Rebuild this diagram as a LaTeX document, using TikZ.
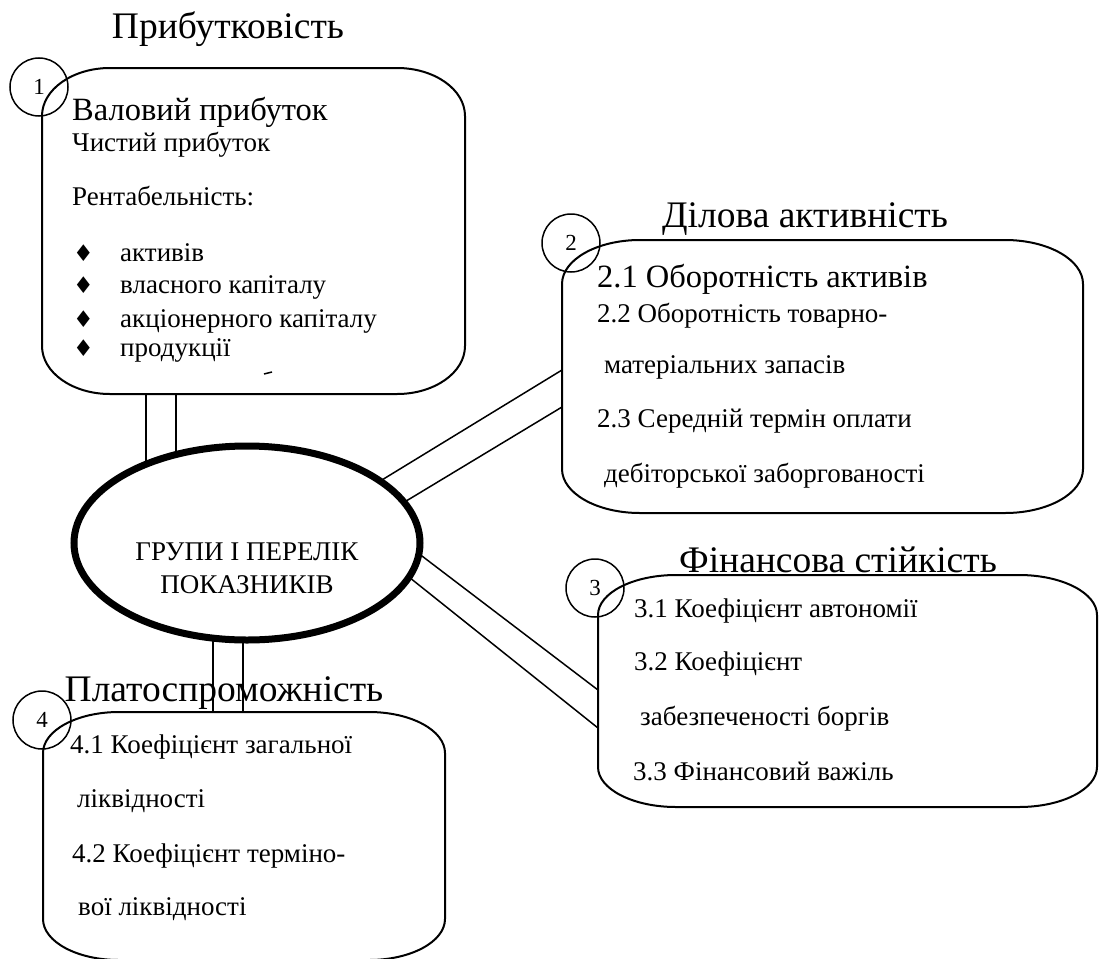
\documentclass[tikz,border=0pt]{standalone}
\usepackage{fontspec}
\setmainfont{Liberation Serif}
\newfontfamily\symfont{DejaVu Sans}
\usetikzlibrary{shapes.geometric,backgrounds}

\tikzset{
  ttl/.style={anchor=base,inner sep=0,font=\fontsize{37.5}{37.5}\selectfont},
  big/.style={anchor=base west,inner sep=0,font=\fontsize{32.5}{32.5}\selectfont},
  txt/.style={anchor=base west,inner sep=0,font=\fontsize{27}{27}\selectfont},
  dia/.style={anchor=base west,inner sep=0,font=\symfont\fontsize{23}{23}\selectfont},
  num/.style={draw,ellipse,line width=1.5,minimum width=58,minimum height=58,inner sep=0,font=\fontsize{23}{23}\selectfont},
  area/.style={inner sep=0,outer sep=0},
  link/.style={line width=1.5},
}

% box with oval corners round a named node
\newcommand{\ovalbox}[3]{%
  \draw[line width=2] ([yshift=-#3]#1.north west)
    arc[start angle=180,end angle=90,x radius=#2,y radius=#3]
    -- ([xshift=-#2]#1.north east)
    arc[start angle=90,end angle=0,x radius=#2,y radius=#3]
    -- ([yshift=#3]#1.south east)
    arc[start angle=0,end angle=-90,x radius=#2,y radius=#3]
    -- ([xshift=#2]#1.south west)
    arc[start angle=270,end angle=180,x radius=#2,y radius=#3] -- cycle;}

\begin{document}
\begin{tikzpicture}[x=1pt,y=-1pt]
  \useasboundingbox (0,0) rectangle (1099,958);

  % boxes
  \node[area,minimum width=423,minimum height=326] (b1) at (253.5,231) {};
  \node[area,minimum width=521,minimum height=273] (b2) at (822.5,376.5) {};
  \node[area,minimum width=499,minimum height=232] (b3) at (847.5,691) {};
  \node[area,minimum width=402,minimum height=248] (b4) at (244,836) {};
  \ovalbox{b1}{68pt}{48pt}
  \ovalbox{b2}{78pt}{44pt}
  \ovalbox{b3}{78pt}{40pt}
  \ovalbox{b4}{76pt}{41pt}

  % centre
  \node[draw,ellipse,line width=7,fill=white,minimum width=346,minimum height=194,inner sep=0] (grp) at (247,543) {};
  \node[txt,anchor=base] (g1) at (247,560) {ГРУПИ І ПЕРЕЛІК};
  \node[txt,anchor=base] (g2) at (247,593) {ПОКАЗНИКІВ};

  % link ends inside the centre
  \coordinate (c1a) at ([xshift=-101pt]grp.center);
  \coordinate (c1b) at ([xshift=-71pt]grp.center);
  \coordinate (c2a) at ([xshift=53pt,yshift=13pt]grp.center);
  \coordinate (c2b) at ([xshift=73pt,yshift=-10pt]grp.center);
  \coordinate (c3a) at ([xshift=83pt,yshift=57pt]grp.center);
  \coordinate (c3b) at ([xshift=83pt,yshift=29pt]grp.center);
  \coordinate (c4a) at ([xshift=-34pt]grp.center);
  \coordinate (c4b) at ([xshift=-4pt]grp.center);

  \begin{scope}[on background layer]
    \draw[link] (b1.south -| c1a) -- (c1a);
    \draw[link] (b1.south -| c1b) -- (c1b);
    \draw[link] ([yshift=6.5pt]b2.west) -- (c2a);
    \draw[link] ([yshift=-30.5pt]b2.west) -- (c2b);
    \draw[link] ([yshift=1pt]b3.west) -- (c3a);
    \draw[link] ([yshift=-37pt]b3.west) -- (c3b);
    \draw[link] (b4.north -| c4a) -- (c4a);
    \draw[link] (b4.north -| c4b) -- (c4b);
  \end{scope}

  % numbers
  \node[num] (n1) at (39,87) {1};
  \node[num] (n2) at (571,243) {2};
  \node[num] (n3) at (595,588) {3};
  \node[num] (n4) at (42,720) {4};

  % titles
  \node[ttl] (h1) at (228,39) {Прибутковість};
  \node[ttl] (h2) at (805,227) {Ділова активність};
  \node[ttl] (h3) at (838,572) {Фінансова стійкість};
  \node[ttl] (h4) at (224,701) {Платоспроможність};

  % box 1
  \node[big] (t11) at (72,120) {Валовий прибуток};
  \node[txt] (t12) at (72,151) {Чистий прибуток};
  \node[txt] (t13) at (72,205) {Рентабельність:};
  \node[dia] (d1) at (73,261) {♦};
  \node[dia] (d2) at (73,293) {♦};
  \node[dia] (d3) at (73,327) {♦};
  \node[dia] (d4) at (73,356) {♦};
  \node[txt] (t14) at (120,261) {активів};
  \node[txt] (t15) at (120,293) {власного капіталу};
  \node[txt] (t16) at (120,327) {акціонерного капіталу};
  \node[txt] (t17) at (120,356) {продукції};
  \draw[line width=1.5] (264,374) -- (272,372);

  % box 2
  \node[big] (t21) at (597,287) {2.1 Оборотність активів};
  \node[txt] (t22) at (597,322) {2.2 Оборотність товарно-};
  \node[txt] (t23) at (604,373) {матеріальних запасів};
  \node[txt] (t24) at (597,427) {2.3 Середній термін оплати};
  \node[txt] (t25) at (604,482) {дебіторської заборгованості};

  % box 3
  \node[txt] (t31) at (634,617) {3.1 Коефіцієнт автономії};
  \node[txt] (t32) at (634,670) {3.2 Коефіцієнт};
  \node[txt] (t33) at (640,725) {забезпеченості боргів};
  \node[txt] (t34) at (633,780) {3.3 Фінансовий важіль};

  % box 4
  \node[txt] (t41) at (70,753) {4.1 Коефіцієнт загальної};
  \node[txt] (t42) at (77,807) {ліквідності};
  \node[txt] (t43) at (72,862) {4.2 Коефіцієнт терміно-};
  \node[txt] (t44) at (78,915) {вої ліквідності};
\end{tikzpicture}
\end{document}
